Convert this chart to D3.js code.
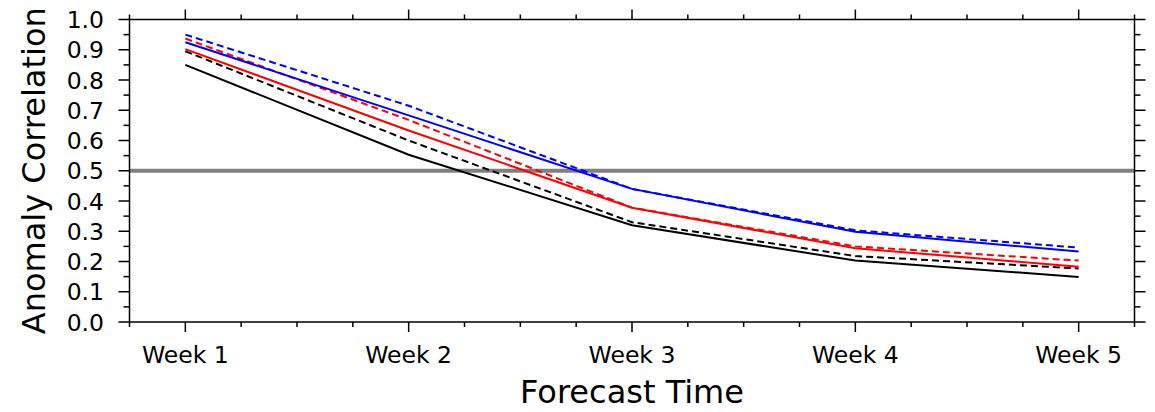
<!DOCTYPE html>
<html>
<head>
<meta charset="utf-8">
<script src="https://cdn.jsdelivr.net/npm/d3@7"></script>
<style>
  body { margin: 0; background: #fff; }
  svg { display: block; font-family: "DejaVu Sans", sans-serif; }
  .tick-label { font-size: 23.5px; fill: #000; }
  .axis-title { font-size: 32px; fill: #000; }
</style>
</head>
<body>
<svg id="chart" width="1155" height="412"></svg>
<script>
const weeks = [1, 2, 3, 4, 5];
const weekLabels = ["Week 1", "Week 2", "Week 3", "Week 4", "Week 5"];
const yTicks = [0, 0.1, 0.2, 0.3, 0.4, 0.5, 0.6, 0.7, 0.8, 0.9, 1.0];

const blueDashed  = [0.950, 0.715, 0.440, 0.303, 0.246];
const blueSolid   = [0.925, 0.683, 0.440, 0.298, 0.233];
const redDashed   = [0.937, 0.668, 0.378, 0.250, 0.203];
const redSolid    = [0.902, 0.633, 0.378, 0.244, 0.183];
const blackDashed = [0.895, 0.600, 0.330, 0.218, 0.177];
const blackSolid  = [0.850, 0.553, 0.320, 0.203, 0.149];
const refLine = 0.5;

const series = [
  { values: blackSolid,  color: "#000", dash: null },
  { values: blackDashed, color: "#000", dash: "7,4" },
  { values: redSolid,    color: "#f00", dash: null },
  { values: redDashed,   color: "#f00", dash: "7,4" },
  { values: blueSolid,   color: "#00f", dash: null },
  { values: blueDashed,  color: "#00f", dash: "7,4" },
];

const svg = d3.select("#chart");
const m = { left: 129.5, right: 1134.5, top: 19.5, bottom: 322 };
const x = d3.scaleLinear().domain([0.75, 5.25]).range([m.left, m.right]);
const y = d3.scaleLinear().domain([0, 1]).range([m.bottom, m.top]);

// reference line at 0.5
svg.append("line")
  .attr("x1", m.left).attr("x2", m.right)
  .attr("y1", y(refLine)).attr("y2", y(refLine))
  .attr("stroke", "#808080").attr("stroke-width", 4);

const line = d3.line().x((d, i) => x(weeks[i])).y((d) => y(d));
series.forEach((s) => {
  svg.append("path").datum(s.values)
    .attr("d", line).attr("fill", "none")
    .attr("stroke", s.color).attr("stroke-width", 2)
    .attr("stroke-dasharray", s.dash);
});

// ticks outward on all four sides, minor in between
const minorX = d3.range(0.75, 5.26, 0.25).filter((v) => Math.abs(v - Math.round(v)) > 0.01);
const minorY = d3.range(0.05, 1, 0.1);
const tick = (g) => g.attr("stroke", "#000").attr("stroke-width", 1.5);

function xTicks(pos, dir) {
  weeks.forEach((v) => tick(svg.append("line").attr("x1", x(v)).attr("x2", x(v)).attr("y1", pos).attr("y2", pos + dir * 10)));
  minorX.forEach((v) => tick(svg.append("line").attr("x1", x(v)).attr("x2", x(v)).attr("y1", pos).attr("y2", pos + dir * 5)));
}
function yTickLines(pos, dir) {
  yTicks.forEach((v) => tick(svg.append("line").attr("y1", y(v)).attr("y2", y(v)).attr("x1", pos).attr("x2", pos + dir * 11)));
  minorY.forEach((v) => tick(svg.append("line").attr("y1", y(v)).attr("y2", y(v)).attr("x1", pos).attr("x2", pos + dir * 6)));
}
xTicks(m.bottom, 1);
xTicks(m.top, -1);
yTickLines(m.left, -1);
yTickLines(m.right, 1);

// frame
svg.append("rect")
  .attr("x", m.left).attr("y", m.top)
  .attr("width", m.right - m.left).attr("height", m.bottom - m.top)
  .attr("fill", "none").attr("stroke", "#000").attr("stroke-width", 1.5);

// tick labels
weeks.forEach((v, i) => {
  svg.append("text").attr("class", "tick-label")
    .attr("x", x(v)).attr("y", 363).attr("text-anchor", "middle").text(weekLabels[i]);
});
yTicks.forEach((v) => {
  svg.append("text").attr("class", "tick-label")
    .attr("x", 104).attr("y", y(v) + 8.5).attr("text-anchor", "end").text(v.toFixed(1));
});

// axis titles
svg.append("text").attr("class", "axis-title")
  .attr("x", (m.left + m.right) / 2).attr("y", 403).attr("text-anchor", "middle")
  .text("Forecast Time");
svg.append("text").attr("class", "axis-title")
  .attr("transform", `translate(45,${(m.top + m.bottom) / 2}) rotate(-90)`)
  .attr("text-anchor", "middle").text("Anomaly Correlation");
</script>
</body>
</html>
